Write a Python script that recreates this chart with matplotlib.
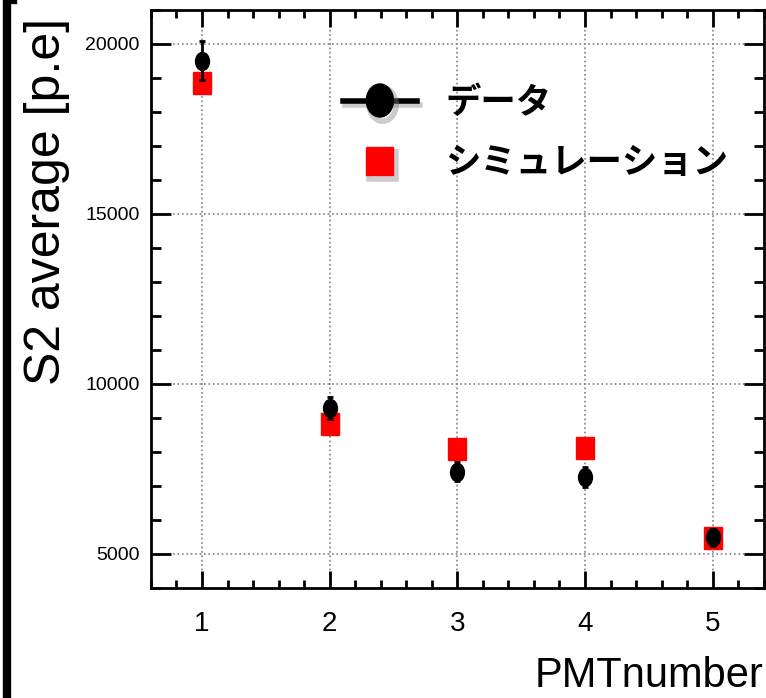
import numpy as np
import matplotlib
matplotlib.use("Agg")
import matplotlib.pyplot as plt
import matplotlib.patheffects as pe
from matplotlib.markers import MarkerStyle
from matplotlib.transforms import Affine2D
from matplotlib.lines import Line2D

plt.rcParams['font.family'] = ['Liberation Sans', 'DejaVu Sans']

# PMT番号ごとの S2 平均値
pmt = [1, 2, 3, 4, 5]
s2_data = [19500, 9290, 7410, 7250, 5490]
s2_err = [570, 320, 280, 300, 250]
s2_sim = [18860, 8830, 8070, 8110, 5460]

fig = plt.figure(figsize=(7.66, 6.98), dpi=100)
ax = fig.add_axes([0.197, 0.158, 0.800, 0.828])

circ = MarkerStyle('o', transform=Affine2D().scale(1.0, 1.3))
rect = MarkerStyle('s', transform=Affine2D().scale(1.0, 1.2))

ax.plot(pmt, s2_sim, linestyle='none', marker=rect, markersize=13,
        color='red', zorder=3)
ax.errorbar(pmt, s2_data, yerr=s2_err, fmt='o', marker=circ, markersize=10,
            color='black', ecolor='black', elinewidth=2, capsize=2.5,
            capthick=2, zorder=4)

ax.set_xlim(0.6, 5.4)
ax.set_ylim(4000, 21000)
ax.set_xticks(pmt)
ax.set_xticks(np.arange(0.6, 5.41, 0.2), minor=True)
ax.set_yticks([5000, 10000, 15000, 20000])
ax.set_yticks(np.arange(4000, 21001, 1000), minor=True)

ax.grid(True, which='major', linestyle=':', color='gray', linewidth=1.2)
for s in ax.spines.values():
    s.set_linewidth(2)

ax.tick_params(axis='both', which='both', direction='in', top=True,
               right=True, width=2, color='black')
ax.tick_params(axis='x', which='major', length=12, labelsize=20, pad=17)
ax.tick_params(axis='x', which='minor', length=6)
ax.tick_params(axis='y', which='major', length=14.5, labelsize=14, pad=8)
ax.tick_params(axis='y', which='minor', length=7.5)

ax.set_ylabel('S2 average [p.e]', fontsize=36)
ax.yaxis.set_label_coords(-0.132, 0.668)
ax.set_xlabel('PMTnumber', fontsize=30)
ax.xaxis.set_label_coords(1.0, -0.188)
ax.xaxis.label.set_horizontalalignment('right')
ax.xaxis.label.set_verticalalignment('bottom')

# 凡例用のハンドル
h_data = Line2D([], [], color='black', linewidth=4,
                marker=MarkerStyle('o', transform=Affine2D().scale(1.0, 1.22)),
                markersize=19.5)
h_sim = Line2D([], [], color='red', linestyle='none', marker='s',
               markersize=19.5)
leg = ax.legend([h_data, h_sim], ['データ', 'シミュレーション'],
                loc='upper left', bbox_to_anchor=(0.313, 0.87),
                frameon=False, borderpad=0, borderaxespad=0,
                prop={'family': ['Noto Sans CJK JP'], 'weight': 'bold',
                      'size': 25.5},
                handlelength=2.1, handletextpad=0.8, labelspacing=0.72)
shadow = [pe.SimpleLineShadow(offset=(2, -3), shadow_color='gray',
                              alpha=0.4, linewidth=4), pe.Normal()]
for hd in leg.legend_handles:
    hd.set_path_effects(shadow)

# 左端の黒い縦線
fig.add_artist(Line2D([6.5 / 766, 6.5 / 766, 13 / 766], [0, 1.0, 1.0],
                      color='black', linewidth=6, transform=fig.transFigure))

fig.savefig('out.png', dpi=100)
